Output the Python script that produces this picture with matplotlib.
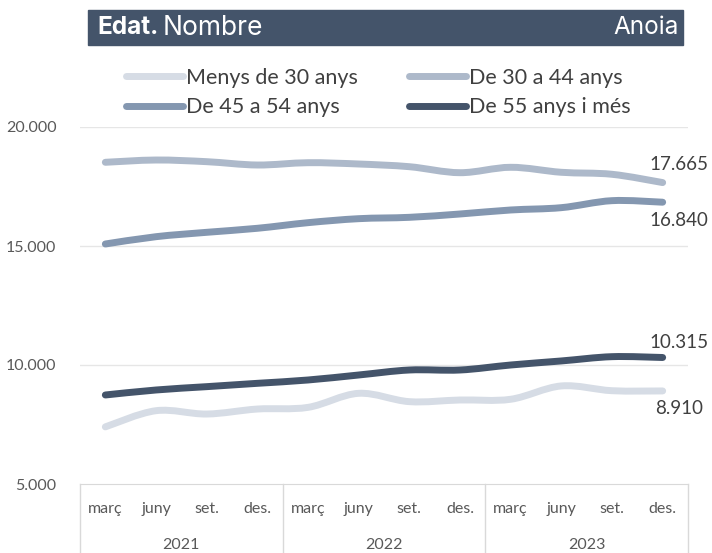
import matplotlib
matplotlib.use("Agg")
import matplotlib.pyplot as plt
import numpy as np
from matplotlib.path import Path
from matplotlib.patches import PathPatch, Rectangle
from matplotlib.lines import Line2D
import matplotlib.transforms as mtransforms

plt.rcParams['font.family'] = ['Lato', 'DejaVu Sans']

months = ["març", "juny", "set.", "des."] * 3
years = ["2021", "2022", "2023"]

menys30 = [7400, 8080, 7940, 8150, 8220, 8810, 8460, 8530, 8560, 9120, 8920, 8910]
de30_44 = [18517, 18613, 18543, 18403, 18500, 18445, 18332, 18080, 18307, 18097, 18013, 17665]
de45_54 = [15084, 15391, 15575, 15744, 15980, 16148, 16205, 16345, 16513, 16611, 16905, 16840]
de55 = [8740, 8950, 9090, 9230, 9370, 9580, 9790, 9790, 10000, 10170, 10350, 10315]

series = [
    ("Menys de 30 anys", menys30, "#D6DCE5"),
    ("De 30 a 44 anys", de30_44, "#ADB9CA"),
    ("De 45 a 54 anys", de45_54, "#8497B0"),
    ("De 55 anys i més", de55, "#44546A"),
]
# end label offset in points (above > 0, below < 0)
label_dy = {"Menys de 30 anys": -13, "De 30 a 44 anys": 13,
            "De 45 a 54 anys": -13, "De 55 anys i més": 11}


def smooth_path(x, y):
    # smoothed line like the spreadsheet one (Catmull-Rom as cubic Bezier)
    pts = np.column_stack([x, y]).astype(float)
    n = len(pts)
    verts = [pts[0]]
    codes = [Path.MOVETO]
    for i in range(n - 1):
        p0 = pts[i - 1] if i > 0 else pts[i]
        p1 = pts[i]
        p2 = pts[i + 1]
        p3 = pts[i + 2] if i + 2 < n else pts[i + 1]
        verts += [p1 + (p2 - p0) / 6.0, p2 - (p3 - p1) / 6.0, p2]
        codes += [Path.CURVE4] * 3
    return Path(verts, codes)


fig = plt.figure(figsize=(7.12, 5.53), dpi=100)
W, H = 712, 553
ax = fig.add_axes([80 / W, 1 - 484 / H, 608 / W, 357 / H])

x = np.arange(len(months))
handles = []
for name, vals, col in series:
    patch = PathPatch(smooth_path(x, vals), facecolor="none", edgecolor=col,
                      lw=5, capstyle="round", joinstyle="round", zorder=3)
    ax.add_patch(patch)
    handles.append(Line2D([], [], color=col, lw=5, solid_capstyle="round"))
    ax.annotate(f"{vals[-1]:,}".replace(",", "."), (x[-1], vals[-1]),
                xytext=(12, label_dy[name]), textcoords="offset points",
                ha="center", va="center", fontsize=13.5, color="#404040")

ax.set_xlim(-0.5, 11.5)
ax.set_ylim(5000, 20000)
ticks = [5000, 10000, 15000, 20000]
ax.set_yticks(ticks)
ax.set_yticklabels([f"{v:,}".replace(",", ".") for v in ticks],
                   fontsize=11.5, color="#595959")
ax.tick_params(axis="y", length=0, pad=17)
for v in [10000, 15000, 20000]:
    ax.axhline(v, color="#E6E6E6", lw=1, zorder=1)
for s in ["left", "right", "top"]:
    ax.spines[s].set_visible(False)
ax.spines["bottom"].set_color("#D9D9D9")

ax.set_xticks(x)
ax.set_xticklabels(months, fontsize=11.5, color="#595959")
ax.tick_params(axis="x", length=0, pad=13)

trans = mtransforms.blended_transform_factory(ax.transData, ax.transAxes)
depth = (H - 484) / 357
for b in [-0.5, 3.5, 7.5, 11.5]:
    ax.plot([b, b], [0, -depth], color="#D9D9D9", lw=1, transform=trans, clip_on=False)
for i, yr in enumerate(years):
    ax.text(4 * i + 1.5, -(545 - 484) / 357, yr, transform=trans, ha="center",
            va="center", fontsize=11.5, color="#595959")

# legend (two rows)
order = [0, 2, 1, 3]
fig.legend([handles[i] for i in order], [series[i][0] for i in order],
           ncol=2, loc="upper left", bbox_to_anchor=(126 / W, 1 - 68 / H),
           frameon=False, fontsize=15.5, handlelength=2.65, handletextpad=0.12,
           columnspacing=2.4, labelspacing=0.42, borderpad=0, borderaxespad=0,
           labelcolor="#404040")

# header bar
fig.patches.append(Rectangle((88 / W, 1 - 45 / H), (683 - 88) / W, 35 / H,
                             transform=fig.transFigure, color="#44546A", zorder=0))
hdr_font = ["Inter", "DejaVu Sans"]
t1 = fig.text(97 / W, 1 - 28 / H, "Edat.", fontsize=17.5, fontweight="bold",
              color="white", va="center", ha="left", family=hdr_font)
fig.canvas.draw()
bb = t1.get_window_extent()
fig.text((bb.x1 + 4) / W, 1 - 28 / H, "Nombre", fontsize=19, color="white",
         va="center", ha="left", family=hdr_font)
fig.text(679 / W, 1 - 28 / H, "Anoia", fontsize=17.5, color="white",
         va="center", ha="right", family=hdr_font)

fig.savefig("out.png", dpi=100)
